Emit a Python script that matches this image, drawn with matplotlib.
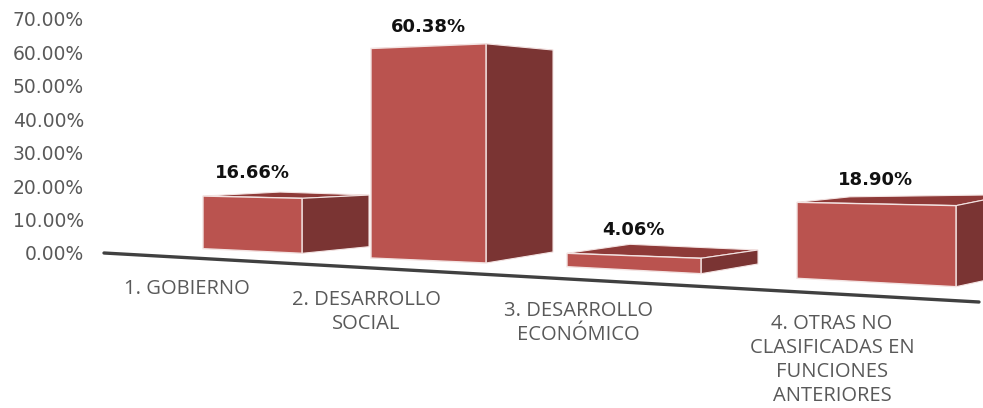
import matplotlib
matplotlib.use("Agg")
import matplotlib.pyplot as plt
from matplotlib.patches import Polygon

# ---- data ----
categories = ["1. GOBIERNO", "2. DESARROLLO\nSOCIAL", "3. DESARROLLO\nECONÓMICO",
              "4. OTRAS NO\nCLASIFICADAS EN\nFUNCIONES\nANTERIORES"]
values = [16.66, 60.38, 4.06, 18.90]
y_ticks = [0, 10, 20, 30, 40, 50, 60, 70]

# ---- perspective layout (pixels of the 983x408 canvas) ----
Y0_PX, PX_PER_UNIT = 253.0, 3.343
x_left = [203, 371, 567, 797]
x_right = [302, 486, 701, 956]
x_side = [369, 553, 758, 1010]
base_left = [248.7, 258, 266.7, 278.3]
base_right = [253.3, 263, 273.7, 286.7]
base_side = [246.7, 252, 264, 275]
scale_left = [3.16, 3.47, 3.3, 4.02]
scale_right = [3.30, 3.63, 3.8, 4.29]
scale_side = [3.10, 3.345, 3.45, 4.25]
apex_x = [280, 430, 630, 850]
apex_dy = [-4, 2, -9, -5.5]
label_x = [252, 428, 633, 875]
label_dy = [-23, -21.5, -23, -22]
cat_x = [186.5, 366, 578, 832]
cat_y = [287, 298, 309, 322]

FRONT, SIDE, TOP = "#BA534F", "#7A3433", "#8E3A38"
TICK_C, CAT_C = "#595959", "#595959"


def v(px):
    return (Y0_PX - px) / PX_PER_UNIT


fig = plt.figure(figsize=(9.83, 4.08), dpi=100)
ax = fig.add_axes([0, 0, 1, 1])
ax.set_xlim(0, 983)
ax.set_ylim(v(408), v(0))
for s in ax.spines.values():
    s.set_visible(False)
ax.set_xticks([])
ax.set_yticks(y_ticks)
ax.set_yticklabels([f"{t:.2f}%" for t in y_ticks], family="DejaVu Sans", fontsize=13.5, color=TICK_C)
ax.tick_params(axis="y", length=0, pad=-84 * 72 / 100)

# baseline
ax.plot([104, 979], [v(253), v(302)], color="#404040", lw=2.4, solid_capstyle="round", zorder=1)

for i, val in enumerate(values):
    tl = v(base_left[i]) + val * scale_left[i] / PX_PER_UNIT
    tr = v(base_right[i]) + val * scale_right[i] / PX_PER_UNIT
    ts = v(base_side[i]) + val * scale_side[i] / PX_PER_UNIT
    ax.add_patch(Polygon([(x_left[i], tl), (apex_x[i], tl - apex_dy[i] / PX_PER_UNIT),
                          (x_side[i], ts), (x_right[i], tr)],
                         fc=TOP, ec="#F3E3E2", lw=0.8, zorder=2))
    ax.add_patch(Polygon([(x_right[i], tr), (x_side[i], ts), (x_side[i], v(base_side[i])),
                          (x_right[i], v(base_right[i]))],
                         fc=SIDE, ec="#F3E3E2", lw=0.8, zorder=3))
    ax.add_patch(Polygon([(x_left[i], tl), (x_right[i], tr), (x_right[i], v(base_right[i])),
                          (x_left[i], v(base_left[i]))],
                         fc=FRONT, ec="#F3E3E2", lw=1.0, zorder=4))
    ax.text(label_x[i], tl + (-label_dy[i]) / PX_PER_UNIT, f"{val:.2f}%", ha="center", va="center",
            family="DejaVu Sans", fontweight="bold", fontsize=13, color="#111111", zorder=5)
    ax.text(cat_x[i], v(cat_y[i] - 8), categories[i], ha="center", va="top", family="Open Sans",
            fontsize=14.5, color=CAT_C, linespacing=1.27, zorder=5)

fig.savefig("out.png", dpi=100, facecolor="white")
